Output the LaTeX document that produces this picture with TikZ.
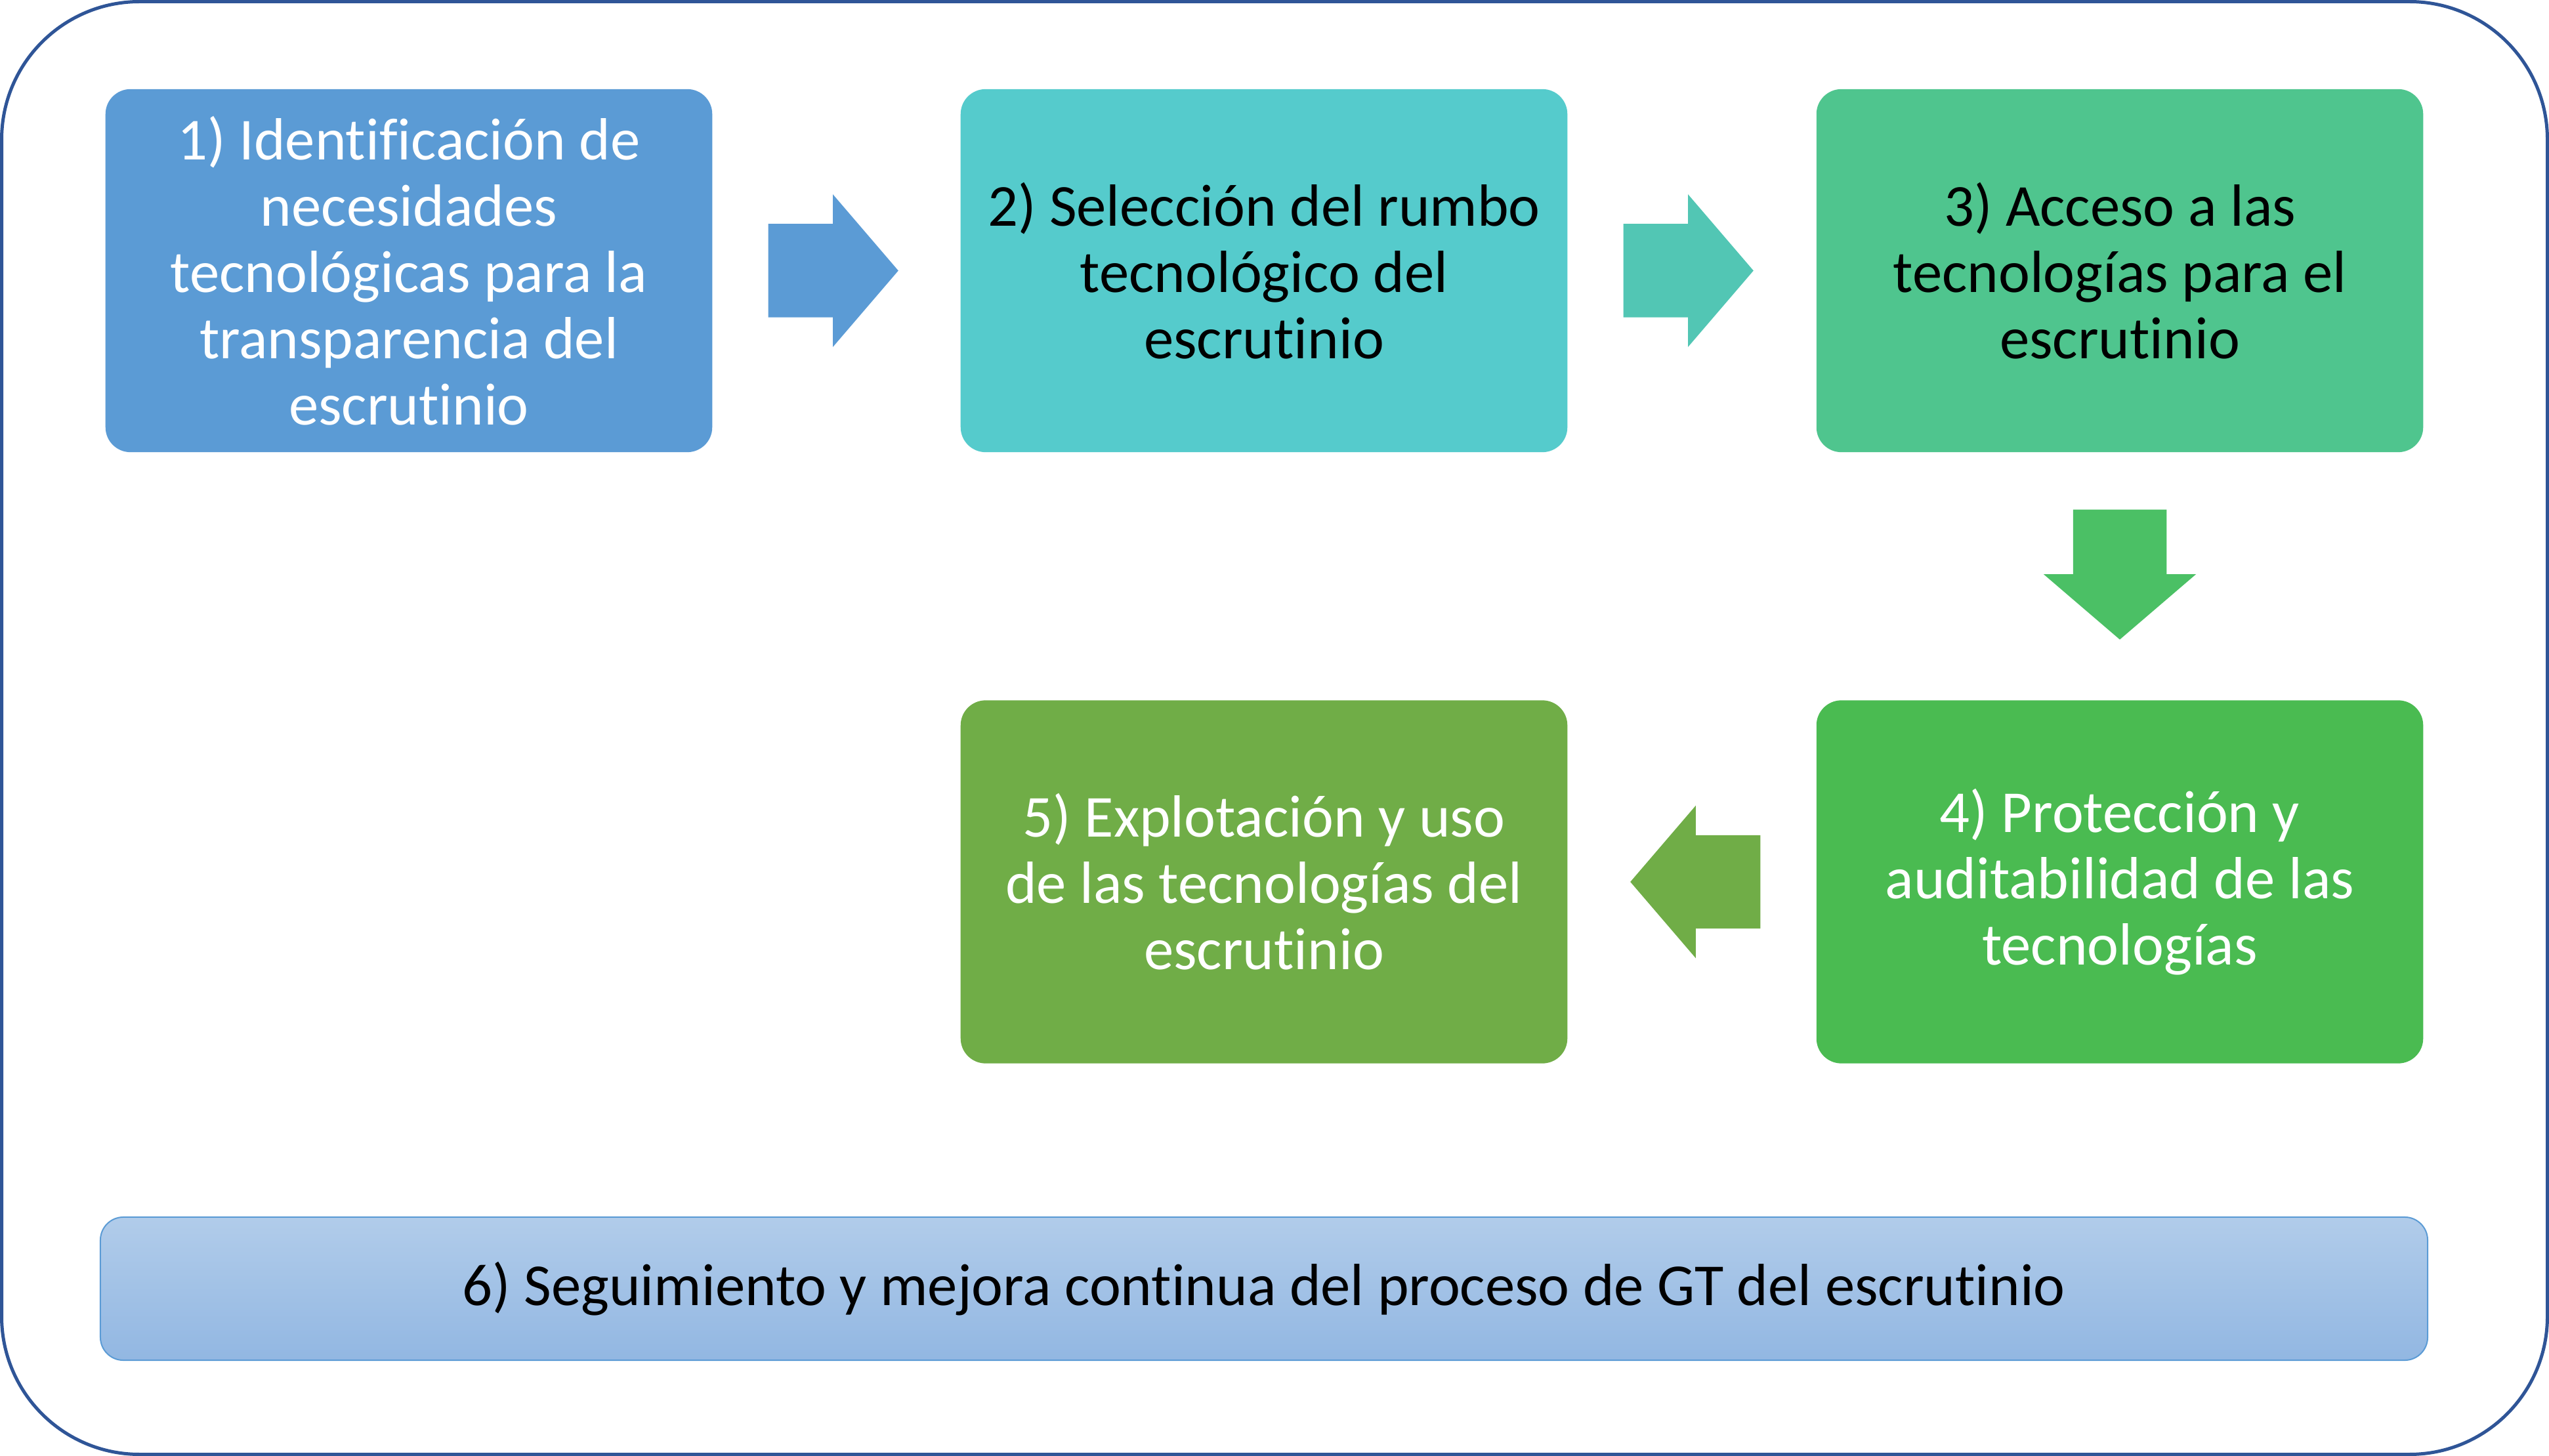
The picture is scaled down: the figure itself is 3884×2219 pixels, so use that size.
\documentclass[tikz,border=0pt]{standalone}
\usepackage{fontspec}
\setmainfont{Carlito}[Ligatures=NoCommon]
\usetikzlibrary{shapes.arrows,calc}
\definecolor{frameblue}{HTML}{2F5597}
\definecolor{cA}{HTML}{5B9BD5}
\definecolor{cB}{HTML}{55CBCC}
\definecolor{cC}{HTML}{4FC58E}
\definecolor{cD}{HTML}{4ABB51}
\definecolor{cE}{HTML}{70AD47}
\definecolor{aB}{HTML}{52C6B4}
\definecolor{aC}{HTML}{4BC065}
\definecolor{gtop}{HTML}{B1CCEA}
\definecolor{gbot}{HTML}{92B7E2}
\tikzset{
  stepbox/.style={rectangle, rounded corners=0.38cm, minimum width=9.24cm, minimum height=5.53cm,
    inner sep=0pt, align=center, font=\fontsize{25.8}{28.7}\selectfont},
  blockarrow/.style={single arrow, draw=none, inner xsep=0pt, inner ysep=0.705cm,
    single arrow head extend=0.45cm, single arrow tip angle=98.8, minimum height=1.98cm,
    minimum width=0pt, text width=0pt, anchor=tail},
}
\begin{document}
\begin{tikzpicture}[x=0.01cm,y=-0.01cm]
\useasboundingbox (0,0) rectangle (3884,2219);
\draw[frameblue, line width=0.05cm, rounded corners=2.1cm] (2.5,2.5) rectangle (3881.5,2216.5);
\node[stepbox, fill=cA, text=white] (b1) at (623,412.5) {1) Identificación de\\necesidades\\tecnológicas para la\\transparencia del\\escrutinio};
\node[stepbox, fill=cB, text=black] (b2) at (1926,412.5) {2) Selección del rumbo\\tecnológico del\\escrutinio};
\node[stepbox, fill=cC, text=black] (b3) at (3230,412.5) {3) Acceso a las\\tecnologías para el\\escrutinio};
\node[stepbox, fill=cD, text=white] (b4) at (3230,1344) {4) Protección y\\auditabilidad de las\\tecnologías};
\node[stepbox, fill=cE, text=white] (b5) at (1926,1344) {5) Explotación y uso\\de las tecnologías del\\escrutinio};
\node[rectangle, rounded corners=0.35cm, draw=cA, line width=0.02cm, top color=gtop, bottom color=gbot,
  minimum width=35.44cm, minimum height=2.18cm, inner sep=0pt, font=\fontsize{25.8}{28.7}\selectfont] (b6) at (1926,1964) {6) Seguimiento y mejora continua del proceso de GT del escrutinio};
\node[blockarrow, fill=cA] (a1) at ($(b1.east)+(84,0)$) {};
\node[blockarrow, fill=aB] (a2) at ($(b2.east)+(84,0)$) {};
\node[blockarrow, fill=aC, rotate=-90] (a3) at ($(b3.south)+(0,86)$) {};
\node[blockarrow, fill=cE, rotate=180] (a4) at ($(b4.west)+(-84,0)$) {};
\end{tikzpicture}
\end{document}
